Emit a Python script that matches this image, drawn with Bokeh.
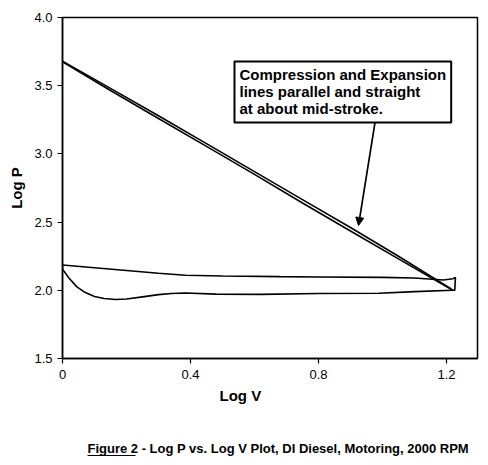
from bokeh.plotting import figure
from bokeh.layouts import column
from bokeh.models import Label, Arrow, NormalHead, FixedTicker, Range1d, Title
from bokeh.core.properties import value
from bokeh.embed import file_html
from bokeh.resources import INLINE

# Motoring cycle, log-log coordinates
# compression stroke: BDC -> TDC
comp_logv = [1.22, 1.05, 0.90, 0.75, 0.60, 0.45, 0.30, 0.15, 0.0]
comp_logp = [2.00, 2.23, 2.435, 2.64, 2.85, 3.055, 3.26, 3.465, 3.675]
# expansion stroke: TDC -> BDC
exp_logv = [0.0, 0.15, 0.30, 0.45, 0.60, 0.75, 0.90, 1.05, 1.215]
exp_logp = [3.68, 3.48, 3.28, 3.075, 2.87, 2.665, 2.46, 2.25, 2.01]
# blowdown hook and exhaust stroke
exh_logv = [1.215, 1.226, 1.228, 1.22, 1.19, 1.10, 1.00, 0.80, 0.68, 0.50, 0.384, 0.30, 0.20, 0.10, 0.0]
exh_logp = [2.00, 2.00, 2.095, 2.085, 2.075, 2.09, 2.095, 2.098, 2.10, 2.105, 2.11, 2.125, 2.145, 2.165, 2.185]
# intake stroke
int_logv = [0.0, 0.0, 0.02, 0.045, 0.07, 0.10, 0.13, 0.166, 0.20, 0.25, 0.30, 0.34, 0.384,
            0.48, 0.62, 0.80, 0.99, 1.10, 1.22]
int_logp = [2.185, 2.155, 2.09, 2.025, 1.985, 1.955, 1.94, 1.933, 1.936, 1.952, 1.968, 1.977, 1.98,
            1.972, 1.97, 1.976, 1.978, 1.99, 2.00]

x_ticks = [0, 0.4, 0.8, 1.2]
x_tick_labels = ["0", "0.4", "0.8", "1.2"]
y_ticks = [1.5, 2.0, 2.5, 3.0, 3.5, 4.0]
y_tick_labels = ["1.5", "2.0", "2.5", "3.0", "3.5", "4.0"]

note_text = "Compression and Expansion\nlines parallel and straight\nat about mid-stroke."
caption_text = "Figure 2 - Log P vs. Log V Plot, DI Diesel, Motoring, 2000 RPM"

FONT = "Liberation Sans"

p = figure(width=488, height=420, output_backend="svg", toolbar_location=None,
           x_range=Range1d(0, 1.297), y_range=Range1d(1.5, 4.0),
           min_border_left=62, min_border_right=11, min_border_top=17, min_border_bottom=62)
p.background_fill_color = "white"
p.border_fill_color = "white"
p.outline_line_color = "black"
p.outline_line_width = 1.5
p.xgrid.visible = False
p.ygrid.visible = False

for ax in (p.xaxis, p.yaxis):
    ax.axis_line_color = "black"
    ax.axis_line_width = 1.5
    ax.major_tick_line_color = "black"
    ax.major_tick_line_width = 1.2
    ax.major_tick_out = 5
    ax.major_tick_in = 0
    ax.minor_tick_line_color = None
    ax.major_label_text_font = FONT
    ax.major_label_text_font_size = "13px"
    ax.major_label_text_color = "black"

p.xaxis.ticker = FixedTicker(ticks=x_ticks)
p.xaxis.major_label_overrides = dict(zip(x_ticks, x_tick_labels))
p.yaxis.ticker = FixedTicker(ticks=y_ticks)
p.yaxis.major_label_overrides = dict(zip(y_ticks, y_tick_labels))
p.xaxis.major_label_standoff = 6
p.yaxis.major_label_standoff = 5

p.yaxis.axis_label = "Log P"
p.yaxis.axis_label_text_font = FONT
p.yaxis.axis_label_text_font_size = "15px"
p.yaxis.axis_label_text_font_style = "bold"
p.yaxis.axis_label_text_color = "black"
p.yaxis.axis_label_standoff = 6

# x-axis title, set a little left of the frame centre
p.add_layout(Title(text="Log V", align="left", offset=157, text_font=FONT,
                   text_font_size="15px", text_font_style="bold", text_color="black",
                   standoff=7), "below")

lw = 1.6
p.line(comp_logv, comp_logp, line_color="black", line_width=lw)
p.line(exp_logv, exp_logp, line_color="black", line_width=lw)
p.line(exh_logv, exh_logp, line_color="black", line_width=lw)
p.line(int_logv, int_logp, line_color="black", line_width=lw)

# callout box and its arrow
p.add_layout(Arrow(x_start=0.978, y_start=3.25, x_end=0.925, y_end=2.475,
                   line_color="black", line_width=1.7,
                   end=NormalHead(size=8, fill_color="black", line_color="black")))
p.add_layout(Label(x=0.5375, y=3.678, text=note_text, text_font=FONT, text_font_size="15px",
                   text_font_style="bold", text_color="black", text_align="left",
                   text_baseline="top", text_line_height=1.0,
                   border_line_color="black", border_line_width=2,
                   background_fill_color="white", padding=5))

# caption strip below the chart (x range in pixels across the aligned frame)
cap = figure(width=488, height=45, output_backend="svg", toolbar_location=None,
             x_range=Range1d(62, 477), y_range=Range1d(0, 45),
             min_border_left=62, min_border_right=11, min_border_top=0, min_border_bottom=0)
cap.axis.visible = False
cap.grid.visible = False
cap.outline_line_color = None
cap.background_fill_color = "white"
cap.border_fill_color = "white"
cap.text(x=[87], y=[17], text=[caption_text], text_font=value(FONT),
         text_font_size="13px", text_font_style="bold", text_color="black",
         text_align="left", text_baseline="middle")
cap.segment(x0=[87], y0=[10], x1=[135], y1=[10], line_color="black", line_width=1.2)

layout = column(p, cap, spacing=0)
open("out.html", "w").write(file_html(layout, INLINE))
